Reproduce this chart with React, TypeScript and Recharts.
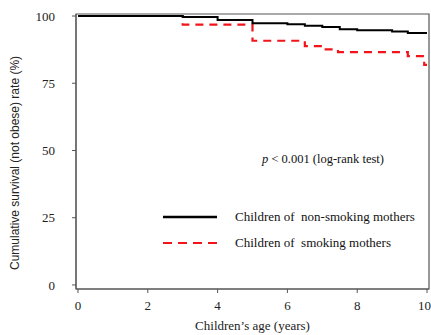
import React from "react";
import {
  LineChart,
  Line,
  XAxis,
  YAxis,
  ReferenceArea,
  Label,
} from "recharts";

const xTicks = [0, 2, 4, 6, 8, 10];
const yTicks = [0, 25, 50, 75, 100];

const nonSmokingAge = [0, 3, 4, 5, 6, 6.5, 7, 7.5, 8, 9, 9.45, 10];
const nonSmokingSurv = [100, 99.6, 98.5, 97.3, 96.9, 96.4, 95.9, 95.1, 94.7, 94.2, 93.7, 93.7];

const smokingAge = [0, 3, 5, 6.5, 7, 7.45, 9.45, 9.92, 10];
const smokingSurv = [100, 96.8, 90.8, 88.8, 87.6, 86.6, 85.1, 81.8, 81.8];

const seriesNames = ["Children of  non-smoking mothers", "Children of  smoking mothers"];

const nonSmoking = nonSmokingAge.map((x, i) => ({ x, y: nonSmokingSurv[i] }));
const smoking = smokingAge.map((x, i) => ({ x, y: smokingSurv[i] }));

const X_DOMAIN: [number, number] = [-0.057, 10.057];
const Y_DOMAIN: [number, number] = [-1.5, 100.75];

const serif = "'Liberation Serif', 'Times New Roman', serif";
const axisColor = "#555";
const red = "#f2141a";

const LegendBox = () => (
  <div
    style={{
      position: "absolute",
      left: 163,
      top: 204,
      fontFamily: serif,
      fontSize: 13,
      color: "#111",
    }}
  >
    {[0, 1].map((i) => (
      <div key={i} style={{ height: 26, display: "flex", alignItems: "center" }}>
        <svg width={54} height={10} style={{ display: "block" }}>
          <line
            x1={0}
            y1={5}
            x2={54}
            y2={5}
            stroke={i === 0 ? "#000" : red}
            strokeWidth={i === 0 ? 2.5 : 2.2}
            strokeDasharray={i === 0 ? undefined : "9 6"}
          />
        </svg>
        <span style={{ marginLeft: 18, whiteSpace: "pre" }}>{seriesNames[i]}</span>
      </div>
    ))}
  </div>
);

const YLabel = () => (
  <text
    x={15}
    y={163}
    transform="rotate(-90 15 163)"
    textAnchor="middle"
    dominantBaseline="central"
    fontFamily="'Liberation Sans', Arial, sans-serif"
    fontSize={12}
    fill="#222"
  >
    Cumulative survival (not obese) rate (%)
  </text>
);

export default function App() {
  return (
    <div style={{ position: "absolute", left: 0, top: 0, width: 431, height: 335, background: "#fff" }}>
      <LineChart
        width={431}
        height={335}
        margin={{ top: 14, right: 2, bottom: 0, left: 0 }}
      >
        <XAxis
          type="number"
          dataKey="x"
          domain={X_DOMAIN}
          ticks={xTicks}
          allowDataOverflow
          height={46}
          tickSize={4}
          tickMargin={8}
          stroke={axisColor}
          tick={{ fontFamily: serif, fontSize: 13, fill: "#222" }}
        >
          <Label
            value="Children’s age (years)"
            position="insideBottom"
            offset={5}
            style={{ fontFamily: serif, fontSize: 13, fill: "#222" }}
          />
        </XAxis>
        <YAxis
          type="number"
          dataKey="y"
          domain={Y_DOMAIN}
          ticks={yTicks}
          allowDataOverflow
          width={76}
          tickSize={4}
          tickMargin={17}
          stroke={axisColor}
          tick={{ fontFamily: serif, fontSize: 13, fill: "#222" }}
        >
          <Label content={<YLabel />} />
        </YAxis>
        <ReferenceArea
          x1={X_DOMAIN[0]}
          x2={X_DOMAIN[1]}
          y1={Y_DOMAIN[0]}
          y2={Y_DOMAIN[1]}
          fill="none"
          stroke={axisColor}
          strokeWidth={1.2}
          ifOverflow="visible"
        />
        <Line
          data={smoking}
          dataKey="y"
          type="stepAfter"
          stroke={red}
          strokeWidth={2.2}
          strokeDasharray="8 6"
          dot={false}
          isAnimationActive={false}
        />
        <Line
          data={nonSmoking}
          dataKey="y"
          type="stepAfter"
          stroke="#000"
          strokeWidth={2}
          dot={false}
          isAnimationActive={false}
        />
      </LineChart>
      <LegendBox />
      <div
        style={{
          position: "absolute",
          left: 262,
          top: 152,
          fontFamily: serif,
          fontSize: 12.5,
          color: "#111",
          whiteSpace: "nowrap",
        }}
      >
        <i>p</i> &lt; 0.001 (log-rank test)
      </div>
    </div>
  );
}
